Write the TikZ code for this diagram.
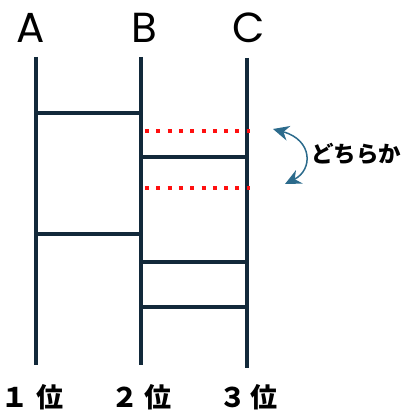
\documentclass[tikz,border=0pt]{standalone}
\usepackage{fontspec}
\setmainfont{Poppins}
\newfontfamily\jp{Noto Sans CJK JP}
\usetikzlibrary{arrows.meta}
\definecolor{navy}{HTML}{12293A}
\definecolor{arrowblue}{HTML}{2C6B8C}
\definecolor{dotred}{HTML}{FF1010}
\begin{document}
\begin{tikzpicture}[x=1pt,y=-1pt,
  rail/.style={navy,line width=4.5pt},
  rung/.style={navy,line width=4.5pt},
  reddots/.style={dotred,line width=4pt,dash pattern=on 4pt off 7.3pt},
  head/.style={font=\fontsize{42}{42}\selectfont,inner sep=0pt},
  rank/.style={font=\jp\bfseries\fontsize{27}{27}\selectfont,inner sep=0pt},
  swap/.style={arrowblue,line width=1.5pt,{Stealth[length=16pt,width=15pt]}-{Stealth[length=16pt,width=15pt]}}]
\useasboundingbox (0,0) rectangle (403,411);
% rail ends
\coordinate (At) at (36,57);  \coordinate (Ab) at (36,365);
\coordinate (Bt) at (141,57); \coordinate (Bb) at (141,365);
\coordinate (Ct) at (247,58); \coordinate (Cb) at (247,368);
\draw[rail] (At) -- (Ab);
\draw[rail] (Bt) -- (Bb);
\draw[rail] (Ct) -- (Cb);
% rungs
\coordinate (r1a) at (36,113);  \coordinate (r1b) at (141,113);
\coordinate (r2a) at (36,234);  \coordinate (r2b) at (141,234);
\coordinate (r3a) at (141,157); \coordinate (r3b) at (247,157);
\coordinate (r4a) at (141,262); \coordinate (r4b) at (247,262);
\coordinate (r5a) at (141,307); \coordinate (r5b) at (247,307);
\draw[rung] (r1a) -- (r1b);
\draw[rung] (r2a) -- (r2b);
\draw[rung] (r3a) -- (r3b);
\draw[rung] (r4a) -- (r4b);
\draw[rung] (r5a) -- (r5b);
% dotted candidates
\coordinate (d1a) at (145,131); \coordinate (d1b) at (250,131);
\coordinate (d2a) at (145,188); \coordinate (d2b) at (250,188);
\draw[reddots] (d1a) -- (d1b);
\draw[reddots] (d2a) -- (d2b);
% swap arrow
\coordinate (s1) at (273,129);
\coordinate (s2) at (285,184);
\draw[swap] (s1) .. controls (313,140) and (313,170) .. (s2);
\node[font=\jp\bfseries\fontsize{22.5}{22.5}\selectfont,anchor=west,inner sep=0pt] (either) at (311,154) {どちらか};
% headers
\node[head] (hA) at (31,28) {A};
\node[head] (hB) at (144,28) {B};
\node[head] (hC) at (249,28) {C};
% ranks
\node[rank] (n1) at (15,397) {１};
\node[rank] (p1) at (50,397) {位};
\node[rank] (n2) at (125,397) {２};
\node[rank] (p2) at (158,397) {位};
\node[rank] (n3) at (233,397) {３};
\node[rank] (p3) at (264,397) {位};
\end{tikzpicture}
\end{document}
